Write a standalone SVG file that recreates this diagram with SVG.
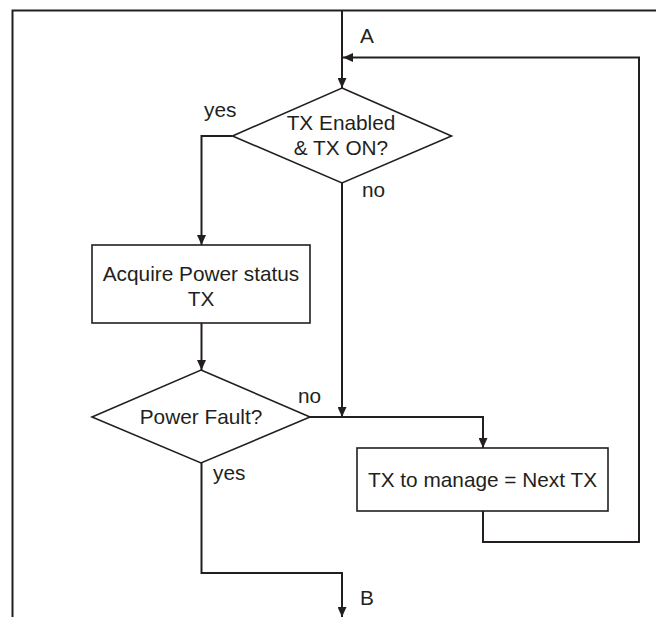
<svg xmlns="http://www.w3.org/2000/svg" width="656" height="617" viewBox="0 0 656 617">
  <style>
    .shape { fill: #ffffff; stroke: #231f20; stroke-width: 1.6; }
    .line { fill: none; stroke: #231f20; stroke-width: 2; }
    .frame { fill: none; stroke: #231f20; stroke-width: 2; }
    .t { font-family: "Liberation Sans", Arial, sans-serif; font-size: 20.8px; fill: #231f20; }
    .c { text-anchor: middle; }
  </style>
  <defs>
    <marker id="arrow" markerUnits="userSpaceOnUse" markerWidth="10" markerHeight="9" refX="10" refY="4.5" orient="auto">
      <path d="M0,0 L10,4.5 L0,9 z" fill="#231f20"/>
    </marker>
  </defs>
  <rect width="656" height="617" fill="#ffffff"/>
  <g id="frame">
    <path class="frame" d="M12.5,617 V10.5 H656"/>
  </g>
  <g id="connectors">
    <path class="line" d="M342,10.5 V88" marker-end="url(#arrow)"/>
    <path class="line" d="M483,511 V542 H639 V57.5 H343" marker-end="url(#arrow)"/>
    <path class="line" d="M232.5,136 H201.5 V245" marker-end="url(#arrow)"/>
    <path class="line" d="M201.5,323 V370" marker-end="url(#arrow)"/>
    <path class="line" d="M342,183 V417" marker-end="url(#arrow)"/>
    <path class="line" d="M310,417 H483 V448" marker-end="url(#arrow)"/>
    <path class="line" d="M201.5,463 V573 H342 V617" marker-end="url(#arrow)"/>
  </g>
  <g id="labels">
    <text class="t" x="360" y="43">A</text>
    <text class="t" x="204" y="117">yes</text>
    <text class="t" x="362" y="197">no</text>
    <text class="t" x="298" y="403">no</text>
    <text class="t" x="213" y="480">yes</text>
    <text class="t" x="360" y="605">B</text>
  </g>
  <g id="node-tx-enabled">
    <polygon class="shape" points="342,88 451.5,136 342,183 232.5,136"/>
    <text class="t c" x="341" y="130">TX Enabled</text>
    <text class="t c" x="341" y="155">&amp; TX ON?</text>
  </g>
  <g id="node-acquire">
    <rect class="shape" x="92" y="245" width="218" height="78"/>
    <text class="t c" x="201" y="281">Acquire Power status</text>
    <text class="t c" x="201" y="306">TX</text>
  </g>
  <g id="node-power-fault">
    <polygon class="shape" points="201,370 310,417 201,463 92,417"/>
    <text class="t c" x="201" y="424">Power Fault?</text>
  </g>
  <g id="node-next-tx">
    <rect class="shape" x="357" y="448" width="251" height="63"/>
    <text class="t c" x="482.5" y="487">TX to manage = Next TX</text>
  </g>
</svg>
